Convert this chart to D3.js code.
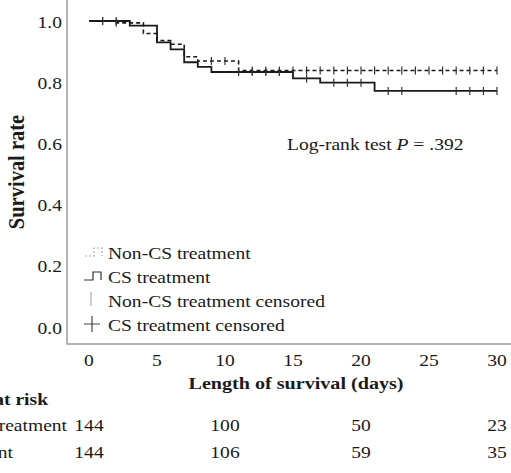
<!DOCTYPE html>
<html>
<head>
<meta charset="utf-8">
<script src="https://cdn.jsdelivr.net/npm/d3@7"></script>
<style>
  body { margin: 0; background: #fff; }
  svg { display: block; font-family: "Liberation Serif", "Times New Roman", serif; }
</style>
</head>
<body>
<svg></svg>
<script>
// Kaplan-Meier steps (day, survival)
const csSteps = [[0, 1], [3, 0.985], [5, 0.930], [6, 0.907], [7, 0.865], [8, 0.850], [9, 0.833], [15, 0.812], [17, 0.798], [21, 0.771]];
const nonCsSteps = [[0, 1], [2, 0.994], [4, 0.959], [5, 0.936], [6, 0.924], [7, 0.883], [8, 0.869], [11, 0.838]];
const csCensored = [1, 2, 11, 12, 13, 14, 16, 18, 19, 20, 22, 23, 27, 28, 29, 30];
const nonCsCensored = [1, 2, 9, 10, 12, 13, 14, 15, 16, 17, 18, 19, 20, 21, 22, 23, 24, 25, 26, 27, 28, 29, 30];
const xTicks = [0, 5, 10, 15, 20, 25, 30];
const yTicks = [0, 0.2, 0.4, 0.6, 0.8, 1.0];
const riskDays = [0, 10, 20, 30];
const riskNonCs = [144, 100, 50, 23];
const riskCs = [144, 106, 59, 35];
const legendItems = ["Non-CS treatment", "CS treatment", "Non-CS treatment censored", "CS treatment censored"];

const width = 511, height = 473;
const svg = d3.select("svg").attr("width", width).attr("height", height);

const x = d3.scaleLinear().domain([0, 30]).range([89, 497]);
const y = d3.scaleLinear().domain([0, 1]).range([326.5, 21]);

const ink = "#1a1a1a";
const sx = 1.15; // the picture is a bit wide

// text helper, stretched horizontally like the source
function label(x0, y0, txt, anchor, size, weight) {
    return svg.append("text")
        .attr("transform", `translate(${x0},${y0}) scale(${sx},1)`)
        .attr("text-anchor", anchor || "start")
        .attr("font-size", size || 17)
        .attr("font-weight", weight || "normal")
        .attr("fill", ink)
        .text(txt);
}

// frame (left + bottom)
svg.append("path")
    .attr("d", "M67,0V344H511")
    .attr("fill", "none")
    .attr("stroke", "#9a9a9a")
    .attr("stroke-width", 1.5);

// tick labels
yTicks.forEach(v => label(62, y(v) + 7, v.toFixed(1), "end"));
xTicks.forEach(d => label(x(d), 366, d, "middle"));

// axis titles
svg.append("text")
    .attr("transform", `translate(24,172) rotate(-90) scale(1,${sx})`)
    .attr("text-anchor", "middle")
    .attr("font-size", 20.5)
    .attr("font-weight", "bold")
    .attr("fill", ink)
    .text("Survival rate");
label(296, 389, "Length of survival (days)", "middle", 17.5, "bold");

// curves
const line = d3.line()
    .x(d => x(d[0]))
    .y(d => y(d[1]))
    .curve(d3.curveStepAfter);

function withEnd(steps) {
    return steps.concat([[30, steps[steps.length - 1][1]]]);
}
function survAt(steps, t) {
    let s = 1;
    steps.forEach(p => { if (p[0] <= t) s = p[1]; });
    return s;
}

svg.append("path")
    .datum(withEnd(nonCsSteps))
    .attr("d", line)
    .attr("fill", "none")
    .attr("stroke", ink)
    .attr("stroke-width", 1.6)
    .attr("stroke-dasharray", "4,3");

svg.append("path")
    .datum(withEnd(csSteps))
    .attr("d", line)
    .attr("fill", "none")
    .attr("stroke", ink)
    .attr("stroke-width", 1.8);

svg.selectAll("line.cens-noncs")
    .data(nonCsCensored)
    .enter()
    .append("line")
    .attr("class", "cens-noncs")
    .attr("x1", d => x(d)).attr("x2", d => x(d))
    .attr("y1", d => y(survAt(nonCsSteps, d)) - 4)
    .attr("y2", d => y(survAt(nonCsSteps, d)) + 4)
    .attr("stroke", "#333")
    .attr("stroke-width", 1.2);

svg.selectAll("line.cens-cs")
    .data(csCensored)
    .enter()
    .append("line")
    .attr("class", "cens-cs")
    .attr("x1", d => x(d)).attr("x2", d => x(d))
    .attr("y1", d => y(survAt(csSteps, d)) - 4)
    .attr("y2", d => y(survAt(csSteps, d)) + 4)
    .attr("stroke", "#333")
    .attr("stroke-width", 1.2);

// log-rank annotation
const lr = label(287, 150, "Log-rank test ");
lr.append("tspan").attr("font-style", "italic").text("P");
lr.append("tspan").text(" = .392");

// legend
const legY = [259, 283, 307, 331];
legendItems.forEach((t, i) => label(108, legY[i], t));
svg.append("path")
    .attr("d", `M85,${legY[0] - 3}H94V${legY[0] - 11}H102V${legY[0] - 3}`)
    .attr("fill", "none").attr("stroke", "#aaa").attr("stroke-width", 1.2)
    .attr("stroke-dasharray", "2,2");
svg.append("path")
    .attr("d", `M84,${legY[1] - 3}H93V${legY[1] - 11}H101V${legY[1] - 3}`)
    .attr("fill", "none").attr("stroke", "#333").attr("stroke-width", 1.2);
svg.append("path")
    .attr("d", `M91,${legY[2] - 15}V${legY[2] - 1}`)
    .attr("fill", "none").attr("stroke", "#aaa").attr("stroke-width", 1.2);
svg.append("path")
    .attr("d", `M92,${legY[3] - 15}V${legY[3] + 1}M84,${legY[3] - 7}H100`)
    .attr("fill", "none").attr("stroke", "#444").attr("stroke-width", 1.2);

// number at risk table (left part is cut off by the frame edge, as in the source)
label(48, 405, "Number at risk", "end", 17, "bold");
label(67, 431, "Non-CS treatment", "end");
label(13, 458, "CS treatment", "end");
riskDays.forEach((d, i) => {
    label(x(d), 431, riskNonCs[i], "middle");
    label(x(d), 458, riskCs[i], "middle");
});
</script>
</body>
</html>
